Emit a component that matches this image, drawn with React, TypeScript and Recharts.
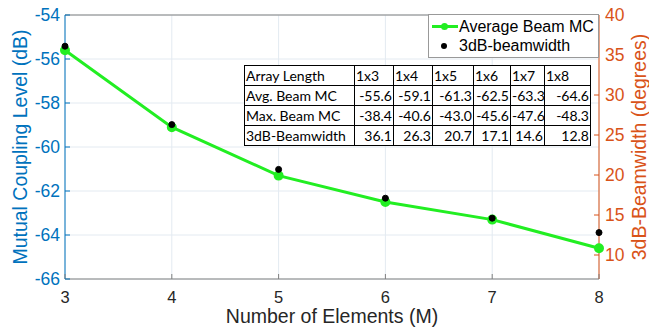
import React from 'react';
import {
  ComposedChart,
  Line,
  XAxis,
  YAxis,
  CartesianGrid,
  ReferenceLine,
} from 'recharts';

const elements = [3, 4, 5, 6, 7, 8];
const avgBeamMC = [-55.6, -59.1, -61.3, -62.5, -63.3, -64.6];
const maxBeamMC = [-38.4, -40.6, -43.0, -45.6, -47.6, -48.3];
const beamwidth = [36.1, 26.3, 20.7, 17.1, 14.6, 12.8];
const arrayLengths = ['1x3', '1x4', '1x5', '1x6', '1x7', '1x8'];

const leftTicks = [-66, -64, -62, -60, -58, -56, -54];
const rightTicks = [10, 15, 20, 25, 30, 35, 40];

const BLUE = '#0072BD';
const ORANGE = '#D95319';
const GREEN = '#22ee22';
const AXIS_GRAY = '#808080';
const FONT = '"Liberation Sans", Arial, Helvetica, sans-serif';
const TABLE_FONT = 'Lato, "Open Sans", sans-serif';

const data = elements.map((x, i) => ({ x, avg: avgBeamMC[i], bw: beamwidth[i] }));

const tableRows = [
  { label: 'Avg. Beam MC', values: avgBeamMC },
  { label: 'Max. Beam MC', values: maxBeamMC },
  { label: '3dB-Beamwidth', values: beamwidth },
];
const colWidths = [110, 39, 39, 41, 37, 34, 46];

const LeftTick = ({ x, y, payload }: any) => (
  <g>
    <line x1={x + 5} x2={x + 10} y1={y} y2={y} stroke={BLUE} strokeWidth={1} />
    <text x={x} y={y} dy="0.36em" textAnchor="end" fill={BLUE} fontSize={17.5} fontFamily={FONT}>
      {payload.value}
    </text>
  </g>
);

const RightTick = ({ x, y, payload }: any) => (
  <g>
    <line x1={x - 6} x2={x - 11} y1={y} y2={y} stroke={ORANGE} strokeWidth={1} />
    <text x={x} y={y} dy="0.36em" textAnchor="start" fill={ORANGE} fontSize={17.5} fontFamily={FONT}>
      {payload.value}
    </text>
  </g>
);

const BottomTick = ({ x, y, payload }: any) => (
  <g>
    <line x1={x} x2={x} y1={y - 12} y2={y - 17} stroke={AXIS_GRAY} strokeWidth={1} />
    <text x={x} y={y} dy="0.71em" textAnchor="middle" fill="#262626" fontSize={16.5} fontFamily={FONT}>
      {payload.value}
    </text>
  </g>
);

const AxisTitle = ({ viewBox, value, color, dx, size }: any) => {
  const cx = viewBox.x + dx;
  const cy = viewBox.y + viewBox.height / 2;
  return (
    <text
      x={cx}
      y={cy}
      transform={`rotate(-90 ${cx} ${cy})`}
      textAnchor="middle"
      dominantBaseline="central"
      fill={color}
      fontSize={size}
      fontFamily={FONT}
    >
      {value}
    </text>
  );
};

const cell: React.CSSProperties = {
  border: '1px solid #000',
  padding: '0 1px',
  height: 19,
  lineHeight: '19px',
  whiteSpace: 'nowrap',
  overflow: 'visible',
};

export default function App() {
  return (
    <div style={{ position: 'absolute', left: 0, top: 0, width: 649, height: 332, background: '#fff' }}>
      <ComposedChart width={649} height={332} data={data} margin={{ top: 15, right: 0, bottom: 0, left: 0 }}>
        <CartesianGrid yAxisId="left" stroke="#e3eaf1" strokeWidth={1} />
        <XAxis
          dataKey="x"
          type="number"
          domain={[3, 8]}
          ticks={elements}
          height={53}
          stroke={AXIS_GRAY}
          tickSize={0}
          tickMargin={12}
          tick={<BottomTick />}
          label={{
            value: 'Number of Elements (M)',
            position: 'insideBottom',
            offset: 9,
            fill: '#262626',
            fontSize: 19.5,
            fontFamily: FONT,
          }}
        />
        <YAxis
          yAxisId="left"
          domain={[-66, -54]}
          ticks={leftTicks}
          width={65}
          stroke={BLUE}
          tickSize={0}
          tickMargin={5}
          tick={<LeftTick />}
          label={<AxisTitle value="Mutual Coupling Level (dB)" color={BLUE} dx={20} size={19.5} />}
        />
        <YAxis
          yAxisId="right"
          orientation="right"
          domain={[7, 40]}
          ticks={rightTicks}
          width={50}
          stroke={ORANGE}
          tickSize={0}
          tickMargin={6}
          tick={<RightTick />}
          label={<AxisTitle value="3dB-Beamwidth (degrees)" color={ORANGE} dx={39.5} size={19.5} />}
        />
        <ReferenceLine yAxisId="left" y={-54} stroke={AXIS_GRAY} strokeWidth={1} />
        <Line
          yAxisId="left"
          dataKey="avg"
          type="linear"
          stroke={GREEN}
          strokeWidth={3}
          dot={{ r: 3.5, fill: GREEN, stroke: GREEN }}
          isAnimationActive={false}
        />
        <Line
          yAxisId="right"
          dataKey="bw"
          stroke="none"
          dot={{ r: 3, fill: '#000', stroke: '#000' }}
          activeDot={false}
          isAnimationActive={false}
        />
      </ComposedChart>

      {/* legend */}
      <div
        style={{
          position: 'absolute',
          left: 428,
          top: 14,
          width: 169,
          height: 42,
          border: '1px solid #999',
          background: '#fff',
          fontFamily: FONT,
          fontSize: 16,
          color: '#000',
        }}
      >
        <div style={{ position: 'absolute', left: 3, top: 10, width: 26, height: 3, background: GREEN }} />
        <div
          style={{ position: 'absolute', left: 12, top: 8, width: 7, height: 7, borderRadius: 4, background: GREEN }}
        />
        <div style={{ position: 'absolute', left: 30, top: 2, lineHeight: '19px' }}>Average Beam MC</div>
        <div
          style={{ position: 'absolute', left: 12, top: 28, width: 6, height: 6, borderRadius: 3, background: '#000' }}
        />
        <div style={{ position: 'absolute', left: 30, top: 21, lineHeight: '19px' }}>3dB-beamwidth</div>
      </div>

      {/* table */}
      <table
        style={{
          position: 'absolute',
          left: 244,
          top: 65,
          borderCollapse: 'collapse',
          tableLayout: 'fixed',
          width: 346,
          fontFamily: TABLE_FONT,
          fontSize: 14,
          color: '#000',
          background: '#fff',
        }}
      >
        <colgroup>
          {colWidths.map((w, i) => (
            <col key={i} style={{ width: w }} />
          ))}
        </colgroup>
        <tbody>
          <tr>
            <td style={{ ...cell, textAlign: 'left' }}>Array Length</td>
            {arrayLengths.map((a) => (
              <td key={a} style={{ ...cell, textAlign: 'left' }}>
                {a}
              </td>
            ))}
          </tr>
          {tableRows.map((row) => (
            <tr key={row.label}>
              <td style={{ ...cell, textAlign: 'left' }}>{row.label}</td>
              {row.values.map((v, i) => (
                <td key={i} style={{ ...cell, textAlign: 'right' }}>
                  {v.toFixed(1)}
                </td>
              ))}
            </tr>
          ))}
        </tbody>
      </table>
    </div>
  );
}
